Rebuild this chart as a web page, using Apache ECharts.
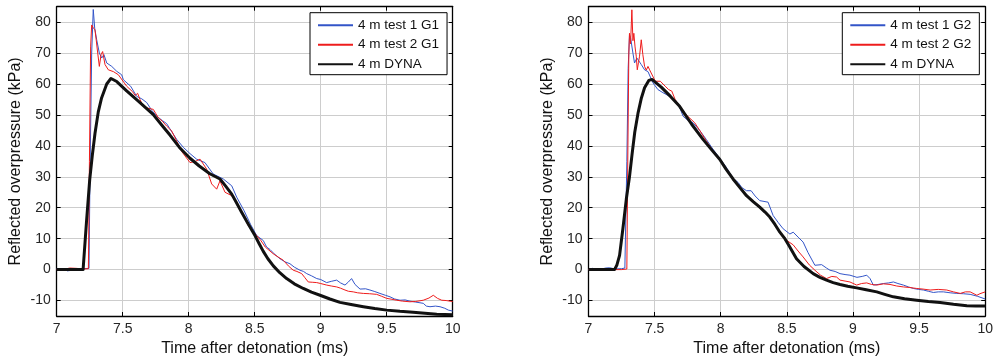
<!DOCTYPE html>
<html>
<head>
<meta charset="utf-8">
<script src="https://cdn.jsdelivr.net/npm/echarts@6/dist/echarts.min.js"></script>
<style>
html,body{margin:0;padding:0;background:#fff;}
#chart{width:996px;height:362px;}
</style>
</head>
<body>
<div id="chart"></div>
<script>
// ---- data (time in ms, overpressure in kPa) ----
const xTicks = [7, 7.5, 8, 8.5, 9, 9.5, 10];
const yTicks = [-10, 0, 10, 20, 30, 40, 50, 60, 70, 80];
const xTitle = 'Time after detonation (ms)';
const yTitle = 'Reflected overpressure (kPa)';
const namesLeft = ['4 m test 1 G1', '4 m test 2 G1', '4 m DYNA'];
const namesRight = ['4 m test 1 G2', '4 m test 2 G2', '4 m DYNA'];

const test1G1 = [[7.0,0.3],[7.05,0.2],[7.08,-0.4],[7.12,-0.2],[7.16,0.2],[7.2,0.3],[7.245,0.4],[7.252,30],[7.265,70],[7.277,84.1],[7.288,78],[7.303,74.3],[7.323,70],[7.341,68.4],[7.358,69.5],[7.379,66.8],[7.417,65.7],[7.455,64.1],[7.492,63],[7.505,61.4],[7.56,59.3],[7.606,56],[7.645,55.2],[7.682,54],[7.72,51.5],[7.758,49.6],[7.8,48.2],[7.833,47.2],[7.858,45.5],[7.909,42.1],[7.96,39.5],[8.01,37.5],[8.06,35.7],[8.123,34.6],[8.186,30.9],[8.262,29.3],[8.326,27.1],[8.364,23.4],[8.42,19],[8.47,14.5],[8.515,11],[8.565,9.4],[8.59,7.3],[8.616,6.5],[8.65,5],[8.692,3.5],[8.73,2.5],[8.767,1.9],[8.8,0.8],[8.843,-0.2],[8.87,-0.6],[8.894,-1.3],[8.93,-2],[8.97,-2.9],[9.0,-3.2],[9.045,-4.2],[9.08,-3.8],[9.121,-3.4],[9.15,-4.3],[9.184,-5],[9.21,-4],[9.234,-2.9],[9.26,-4.8],[9.298,-6.3],[9.34,-6.2],[9.373,-6.6],[9.41,-7.1],[9.449,-7.7],[9.49,-8.3],[9.525,-8.8],[9.56,-9.5],[9.601,-9.9],[9.64,-9.8],[9.676,-10.2],[9.72,-10.5],[9.777,-10.9],[9.8,-11.8],[9.828,-12],[9.87,-11.8],[9.904,-12],[9.94,-12.5],[9.967,-13.1],[10.0,-13.4]];

const test2G1 = [[7.0,0],[7.05,0.1],[7.1,0.5],[7.15,0.4],[7.2,0.2],[7.24,0.3],[7.248,35],[7.257,72],[7.265,79.1],[7.277,78.2],[7.29,77.5],[7.3,74],[7.308,71],[7.323,65.7],[7.336,69.5],[7.348,70.5],[7.366,66.3],[7.391,64.6],[7.43,64],[7.467,63],[7.53,59.3],[7.575,57.5],[7.595,56.3],[7.613,57],[7.631,55],[7.656,52.8],[7.69,52.2],[7.732,51.8],[7.75,50.5],[7.77,49.1],[7.8,48],[7.833,46.4],[7.855,45.5],[7.871,44.8],[7.909,41.6],[7.95,38],[8.01,34.6],[8.05,35],[8.086,35.7],[8.136,32.5],[8.174,27.7],[8.212,26],[8.237,28.7],[8.275,25],[8.326,23.9],[8.389,19.6],[8.452,14.2],[8.515,11],[8.545,9.5],[8.58,7.3],[8.641,5.1],[8.68,4],[8.717,3],[8.755,1.2],[8.792,-0.2],[8.82,-0.6],[8.856,-1.3],[8.88,-2.6],[8.906,-4],[8.94,-4.1],[8.97,-4.2],[9.0,-4.5],[9.045,-5],[9.08,-5.3],[9.121,-5.6],[9.15,-6],[9.184,-6.6],[9.21,-7],[9.247,-7.2],[9.28,-7.5],[9.323,-7.7],[9.37,-7.8],[9.424,-8],[9.46,-8.6],[9.5,-9.3],[9.54,-9.6],[9.576,-9.9],[9.62,-10.2],[9.676,-10.4],[9.72,-10.3],[9.777,-9.9],[9.82,-9.2],[9.853,-8.3],[9.885,-9.3],[9.917,-9.9],[9.95,-10],[9.98,-10.2],[10.0,-10.3]];

const dynaG1 = [[7.0,0],[7.1,0],[7.2,0],[7.225,15],[7.25,29],[7.27,37],[7.29,44],[7.315,51],[7.34,55.5],[7.379,60],[7.411,61.8],[7.455,60.8],[7.53,57.8],[7.631,54],[7.73,50.2],[7.8,46.5],[7.858,43.5],[7.93,39.5],[8.01,36],[8.08,33.5],[8.16,31],[8.237,29.3],[8.28,27],[8.326,24.4],[8.36,21.8],[8.4,18.6],[8.45,14.8],[8.502,11],[8.535,8.3],[8.565,5.9],[8.6,3.5],[8.641,1.2],[8.69,-1],[8.742,-2.9],[8.8,-4.6],[8.868,-6.1],[8.93,-7.3],[8.995,-8.3],[9.07,-9.5],[9.146,-10.6],[9.23,-11.3],[9.323,-12],[9.41,-12.6],[9.5,-13.1],[9.6,-13.5],[9.7,-13.8],[9.79,-14.1],[9.879,-14.4],[10.0,-14.6]];

const test1G2 = [[7.0,0],[7.03,0.4],[7.06,0.2],[7.1,0.2],[7.13,0.5],[7.16,0.6],[7.2,0.2],[7.25,0.3],[7.275,0.5],[7.29,35],[7.3,65],[7.31,75.9],[7.318,75],[7.336,70],[7.348,66.8],[7.366,68.4],[7.381,67.9],[7.399,66.3],[7.424,64.6],[7.45,64],[7.487,60.4],[7.525,58.2],[7.563,57.2],[7.614,56],[7.664,54.5],[7.689,52.5],[7.715,49.6],[7.75,48.3],[7.79,47.5],[7.841,45],[7.892,42],[7.94,39],[7.992,36],[8.043,33],[8.093,29.5],[8.131,28.2],[8.16,26.5],[8.195,25.5],[8.23,25.5],[8.26,23.8],[8.295,22.3],[8.358,21.8],[8.396,17.5],[8.435,15.2],[8.472,13.2],[8.523,11.5],[8.548,12.1],[8.585,10.5],[8.623,8.9],[8.66,5.5],[8.712,1.4],[8.763,1.6],[8.8,0.5],[8.826,-0.2],[8.865,-0.6],[8.902,-1.3],[8.94,-1.6],[8.977,-1.8],[9.03,-2.5],[9.07,-2.2],[9.104,-1.8],[9.129,-2.9],[9.154,-5],[9.19,-4.8],[9.23,-4.5],[9.27,-4.3],[9.306,-4],[9.34,-4.5],[9.381,-5],[9.42,-5.6],[9.457,-6.1],[9.495,-6.4],[9.533,-6.6],[9.57,-7],[9.608,-7.4],[9.645,-7.2],[9.684,-7.2],[9.735,-7.5],[9.785,-7.7],[9.835,-7.8],[9.886,-8],[9.94,-8.6],[10.0,-9.5]];

const test2G2 = [[7.0,0],[7.05,0],[7.1,0.1],[7.15,-0.1],[7.2,0],[7.25,0],[7.29,0.2],[7.298,40],[7.305,70],[7.31,76.4],[7.318,73],[7.328,84],[7.336,74],[7.343,76.4],[7.352,72],[7.361,69],[7.369,64.6],[7.378,67],[7.386,69],[7.399,74.3],[7.411,69.5],[7.424,65.7],[7.437,64.5],[7.45,65.7],[7.462,64.6],[7.475,64.1],[7.505,60.9],[7.543,60.9],[7.58,59.3],[7.606,58.2],[7.63,57.7],[7.655,55],[7.689,52.8],[7.74,50],[7.803,47.5],[7.841,45],[7.892,41.5],[7.94,38.5],[7.992,35.5],[8.04,32.5],[8.093,29.5],[8.145,26.5],[8.195,24.2],[8.245,22.2],[8.295,20.5],[8.335,18.8],[8.371,16.8],[8.41,14.5],[8.447,12],[8.497,9.5],[8.548,8],[8.585,6],[8.623,4.1],[8.67,1.5],[8.712,-0.2],[8.755,-1.8],[8.8,-2.9],[8.84,-2.2],[8.876,-2.4],[8.902,-3.4],[8.94,-3.7],[8.977,-4],[9.028,-5],[9.065,-4.5],[9.104,-4.3],[9.14,-4.8],[9.18,-5],[9.23,-4.6],[9.28,-4.8],[9.33,-5.3],[9.381,-5.6],[9.43,-5.8],[9.482,-6.1],[9.53,-6.3],[9.583,-6.6],[9.645,-6.4],[9.709,-6.6],[9.76,-7.2],[9.811,-7.7],[9.85,-7.2],[9.886,-7.2],[9.937,-8.3],[9.96,-7.8],[10.0,-7.2]];

const dynaG2 = [[7.0,0],[7.1,0],[7.197,0],[7.215,1.5],[7.235,4.6],[7.26,13.2],[7.286,22.8],[7.31,30],[7.33,37.5],[7.35,44.5],[7.374,50.5],[7.4,55.5],[7.424,58.8],[7.457,61.2],[7.48,61.5],[7.5,60.8],[7.55,59],[7.62,56],[7.689,52.8],[7.78,47],[7.866,42.1],[7.93,38.8],[7.992,35.7],[8.04,32.5],[8.093,29.3],[8.145,26.5],[8.195,23.9],[8.245,22],[8.295,20.2],[8.335,18.6],[8.371,17],[8.41,14.6],[8.447,12.1],[8.485,10],[8.52,7.5],[8.573,3.5],[8.63,1],[8.699,-1.3],[8.75,-2.5],[8.8,-3.4],[8.85,-4.2],[8.902,-4.8],[8.96,-5.4],[9.028,-5.9],[9.1,-6.5],[9.18,-7.2],[9.24,-8],[9.305,-8.8],[9.39,-9.4],[9.482,-9.9],[9.57,-10.3],[9.659,-10.6],[9.76,-11.2],[9.861,-11.7],[9.93,-11.8],[10.0,-11.8]];

// ---- styling ----
const FONT = '"Liberation Sans", Arial, Helvetica, sans-serif';
const BLUE = '#3355c8';
const RED = '#ee1c1c';
const BLACK = '#111111';
const GRIDC = '#cdcdcd';
const X_MIN = xTicks[0], X_MAX = xTicks[xTicks.length - 1];
const Y_MIN = -15, Y_MAX = 85;

const grids = [
  { left: 56.7, top: 6.7, width: 396, height: 311 },
  { left: 588.5, top: 6.7, width: 397, height: 311 }
];

const xAxes = [], yAxes = [];
grids.forEach((g, gi) => {
  xAxes.push({
    type: 'value', gridIndex: gi, position: 'bottom',
    min: X_MIN, max: X_MAX, interval: 0.5,
    axisLine: { show: true, onZero: false, lineStyle: { color: '#000', width: 1.3 } },
    axisTick: { show: true, inside: true, length: 4, lineStyle: { color: '#000', width: 1 } },
    axisLabel: { show: true, color: '#262626', fontSize: 14, fontFamily: FONT, margin: 6 },
    splitLine: { show: true, lineStyle: { color: GRIDC, width: 1 } },
    name: xTitle, nameLocation: 'middle', nameGap: 25,
    nameTextStyle: { color: '#111', fontSize: 16, fontFamily: FONT }
  });
  xAxes.push({
    type: 'value', gridIndex: gi, position: 'top',
    min: X_MIN, max: X_MAX, interval: 0.5,
    axisLine: { show: true, onZero: false, lineStyle: { color: '#000', width: 1.3 } },
    axisTick: { show: true, inside: true, length: 4, lineStyle: { color: '#000', width: 1 } },
    axisLabel: { show: false }, splitLine: { show: false }
  });
  yAxes.push({
    type: 'value', gridIndex: gi, position: 'left',
    min: Y_MIN, max: Y_MAX,
    axisLine: { show: true, onZero: false, lineStyle: { color: '#000', width: 1.3 } },
    axisTick: { show: true, inside: true, length: 4, customValues: yTicks, lineStyle: { color: '#000', width: 1 } },
    axisLabel: { show: true, customValues: yTicks, color: '#262626', fontSize: 14, fontFamily: FONT, margin: 6 },
    splitLine: { show: true, lineStyle: { color: GRIDC, width: 1 } },
    name: yTitle, nameLocation: 'middle', nameGap: 33, nameRotate: 90,
    nameTextStyle: { color: '#111', fontSize: 16, fontFamily: FONT }
  });
  yAxes.push({
    type: 'value', gridIndex: gi, position: 'right',
    min: Y_MIN, max: Y_MAX,
    axisLine: { show: true, onZero: false, lineStyle: { color: '#000', width: 1.3 } },
    axisTick: { show: true, inside: true, length: 4, customValues: yTicks, lineStyle: { color: '#000', width: 1 } },
    axisLabel: { show: false }, splitLine: { show: false }
  });
});

function line(name, data, color, width, gi) {
  return {
    type: 'line', name: name, data: data,
    xAxisIndex: gi * 2, yAxisIndex: gi * 2,
    symbol: 'none', showSymbol: false, smooth: false,
    lineStyle: { color: color, width: width, join: 'round' },
    itemStyle: { color: color },
    emphasis: { disabled: true }, silent: true, clip: true
  };
}

const series = [
  line(namesLeft[0], test1G1, BLUE, 1, 0),
  line(namesLeft[1], test2G1, RED, 1, 0),
  line(namesLeft[2], dynaG1, BLACK, 3, 0),
  line(namesRight[0], test1G2, BLUE, 1, 1),
  line(namesRight[1], test2G2, RED, 1, 1),
  line(namesRight[2], dynaG2, BLACK, 3, 1)
];

function legend(names, left) {
  return {
    data: names, orient: 'vertical', left: left, top: 12.7,
    itemWidth: 35, itemHeight: 12, itemGap: 4.5,
    padding: [5, 8, 3, 7],
    borderColor: '#000', borderWidth: 1, backgroundColor: '#fff',
    selectedMode: false,
    itemStyle: { color: 'rgba(0,0,0,0)', borderWidth: 0, opacity: 0 },
    textStyle: { color: '#111', fontSize: 13.5, fontFamily: FONT, lineHeight: 15 }
  };
}

const chart = echarts.init(document.getElementById('chart'), null, { renderer: 'canvas' });
chart.setOption({
  animation: false,
  backgroundColor: '#fff',
  grid: grids,
  xAxis: xAxes,
  yAxis: yAxes,
  legend: [legend(namesLeft, 310), legend(namesRight, 842.3)],
  series: series
});
</script>
</body>
</html>
